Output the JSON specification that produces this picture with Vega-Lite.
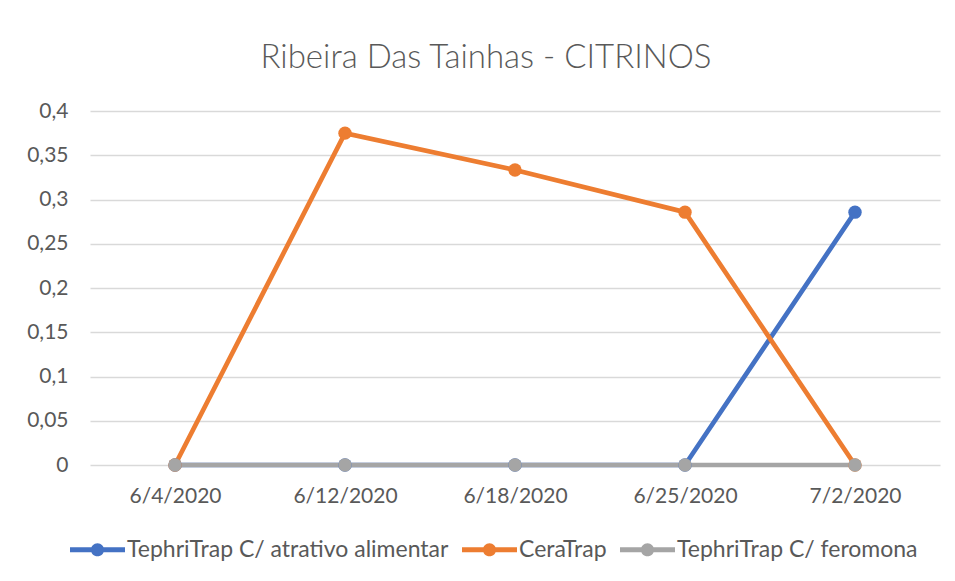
{
  "$schema": "https://vega.github.io/schema/vega-lite/v6.json",
  "width": 850,
  "height": 354,
  "padding": {"left": 20, "top": 42, "right": 15, "bottom": 10},
  "background": "white",
  "title": {
    "text": "Ribeira Das Tainhas - CITRINOS",
    "font": "Lato",
    "fontSize": 33,
    "fontWeight": 300,
    "color": "#595959",
    "anchor": "middle",
    "dx": -29,
    "offset": 25
  },
  "data": {
    "values": [
      {"date": "6/4/2020", "series": "TephriTrap C/ atrativo alimentar", "value": 0},
      {"date": "6/12/2020", "series": "TephriTrap C/ atrativo alimentar", "value": 0},
      {"date": "6/18/2020", "series": "TephriTrap C/ atrativo alimentar", "value": 0},
      {"date": "6/25/2020", "series": "TephriTrap C/ atrativo alimentar", "value": 0},
      {"date": "7/2/2020", "series": "TephriTrap C/ atrativo alimentar", "value": 0.2857},
      {"date": "6/4/2020", "series": "CeraTrap", "value": 0},
      {"date": "6/12/2020", "series": "CeraTrap", "value": 0.375},
      {"date": "6/18/2020", "series": "CeraTrap", "value": 0.3333},
      {"date": "6/25/2020", "series": "CeraTrap", "value": 0.2857},
      {"date": "7/2/2020", "series": "CeraTrap", "value": 0},
      {"date": "6/4/2020", "series": "TephriTrap C/ feromona", "value": 0},
      {"date": "6/12/2020", "series": "TephriTrap C/ feromona", "value": 0},
      {"date": "6/18/2020", "series": "TephriTrap C/ feromona", "value": 0},
      {"date": "6/25/2020", "series": "TephriTrap C/ feromona", "value": 0},
      {"date": "7/2/2020", "series": "TephriTrap C/ feromona", "value": 0}
    ]
  },
  "mark": {"type": "line", "strokeWidth": 4.7, "point": {"filled": true, "size": 180, "opacity": 1}},
  "encoding": {
    "x": {
      "field": "date",
      "type": "ordinal",
      "sort": ["6/4/2020", "6/12/2020", "6/18/2020", "6/25/2020", "7/2/2020"],
      "scale": {"type": "point", "padding": 0.5},
      "axis": {
        "title": null,
        "labelAngle": 0,
        "domain": false,
        "ticks": false,
        "labelPadding": 20,
        "labelFont": "Lato",
        "labelFontSize": 21,
        "labelColor": "#595959"
      }
    },
    "y": {
      "field": "value",
      "type": "quantitative",
      "scale": {"domain": [0, 0.4]},
      "axis": {
        "title": null,
        "values": [0, 0.05, 0.1, 0.15, 0.2, 0.25, 0.3, 0.35, 0.4],
        "labelExpr": "replace(format(datum.value, ''), '.', ',')",
        "domain": false,
        "ticks": false,
        "labelPadding": 22,
        "minExtent": 70,
        "maxExtent": 70,
        "gridColor": "#d9d9d9",
        "gridWidth": 1.3,
        "labelFont": "Lato",
        "labelFontSize": 21,
        "labelColor": "#595959"
      }
    },
    "color": {
      "field": "series",
      "type": "nominal",
      "sort": ["TephriTrap C/ atrativo alimentar", "CeraTrap", "TephriTrap C/ feromona"],
      "scale": {
        "domain": ["TephriTrap C/ atrativo alimentar", "CeraTrap", "TephriTrap C/ feromona"],
        "range": ["#4472C4", "#ED7D31", "#A5A5A5"]
      },
      "legend": {
        "title": null,
        "orient": "none",
        "legendX": -20,
        "legendY": 411,
        "direction": "horizontal",
        "symbolType": "M-1,-0.09 L1,-0.09 L1,0.09 L-1,0.09 Z M-0.24,0 A0.24,0.24 0 1,1 0.24,0 A0.24,0.24 0 1,1 -0.24,0 Z",
        "symbolSize": 3025,
        "symbolStrokeWidth": 0,
        "labelFont": "Lato",
        "labelFontSize": 23,
        "labelColor": "#595959",
        "labelLimit": 0,
        "columnPadding": 13,
        "labelOffset": 2,
        "encode": {
          "symbols": {
            "update": {
              "fill": {"scale": "color", "field": "value"},
              "strokeWidth": {"value": 0},
              "opacity": {"value": 1}
            }
          }
        }
      }
    }
  },
  "config": {"view": {"stroke": null}}
}
